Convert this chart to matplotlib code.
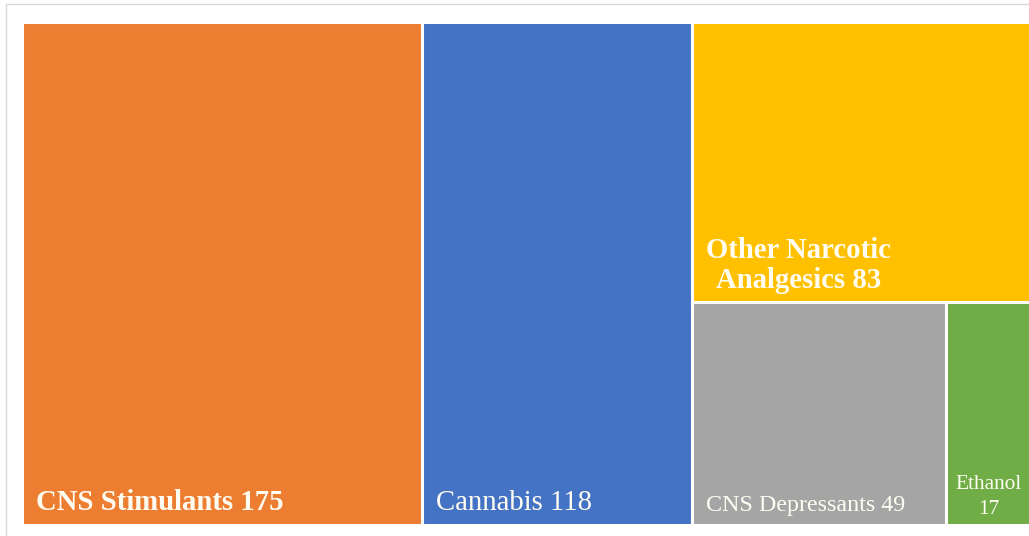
import matplotlib
matplotlib.use("Agg")
import matplotlib.pyplot as plt
from matplotlib.patches import Rectangle

# data
labels = ["CNS Stimulants", "Cannabis", "Other Narcotic\nAnalgesics", "CNS Depressants", "Ethanol\n"]
values = [175, 118, 83, 49, 17]
colors = ["#ED7D31", "#4472C4", "#FFC000", "#A5A5A5", "#70AD47"]
bold = [True, False, True, False, False]
sizes = [20.7, 20.7, 20.7, 17.3, 15.3]


def worst(row, side):
    s = sum(row)
    return max(max(side * side * r / (s * s), s * s / (side * side * r)) for r in row)


def layout_row(row, x, y, w, h):
    s = sum(row)
    rects = []
    if w >= h:
        cw = s / h
        yy = y
        for r in row:
            rh = r / cw
            rects.append((x, yy, cw, rh))
            yy += rh
        return rects, (x + cw, y, w - cw, h)
    rh = s / w
    xx = x
    for r in row:
        rw = r / rh
        rects.append((xx, y, rw, rh))
        xx += rw
    return rects, (x, y + rh, w, h - rh)


def squarify(vals, x, y, w, h):
    total = sum(vals)
    areas = [v * w * h / total for v in vals]
    out = []
    box = (x, y, w, h)
    row = []
    i = 0
    while i < len(areas):
        side = min(box[2], box[3])
        a = areas[i]
        if not row or worst(row + [a], side) <= worst(row, side):
            row.append(a)
            i += 1
        else:
            rects, box = layout_row(row, *box)
            out += rects
            row = []
    if row:
        rects, box = layout_row(row, *box)
        out += rects
    return out


W, H = 1029, 536
fig = plt.figure(figsize=(W / 100, H / 100), dpi=100)
ax = fig.add_axes([0, 0, 1, 1])
ax.set_xlim(0, W)
ax.set_ylim(H, 0)
ax.axis("off")

# outer chart frame
ax.add_patch(Rectangle((6, 4), 1100, 600, facecolor="white", edgecolor="#D9D9D9", lw=1.0))

rects = squarify(values, 21.5, 21.5, 1012, 503)
for (x, y, w, h), lab, v, c, b, fs in zip(rects, labels, values, colors, bold, sizes):
    ax.add_patch(Rectangle((x, y), w, h, facecolor=c, edgecolor="white", lw=2.2))
    if lab.endswith("\n"):
        txt = lab + str(v)
        dx, dy, ls = 10, 6, 1.4
    else:
        txt = f"{lab} {v}"
        dx, dy, ls = 14, 8, 1.15
    ax.text(x + dx, y + h - dy, txt, ha="left", va="bottom", multialignment="center",
            family="Liberation Serif", fontsize=fs, fontweight="bold" if b else "normal",
            color="#FFFDF2", linespacing=ls)

fig.savefig("out.png", dpi=100)
plt.close(fig)
